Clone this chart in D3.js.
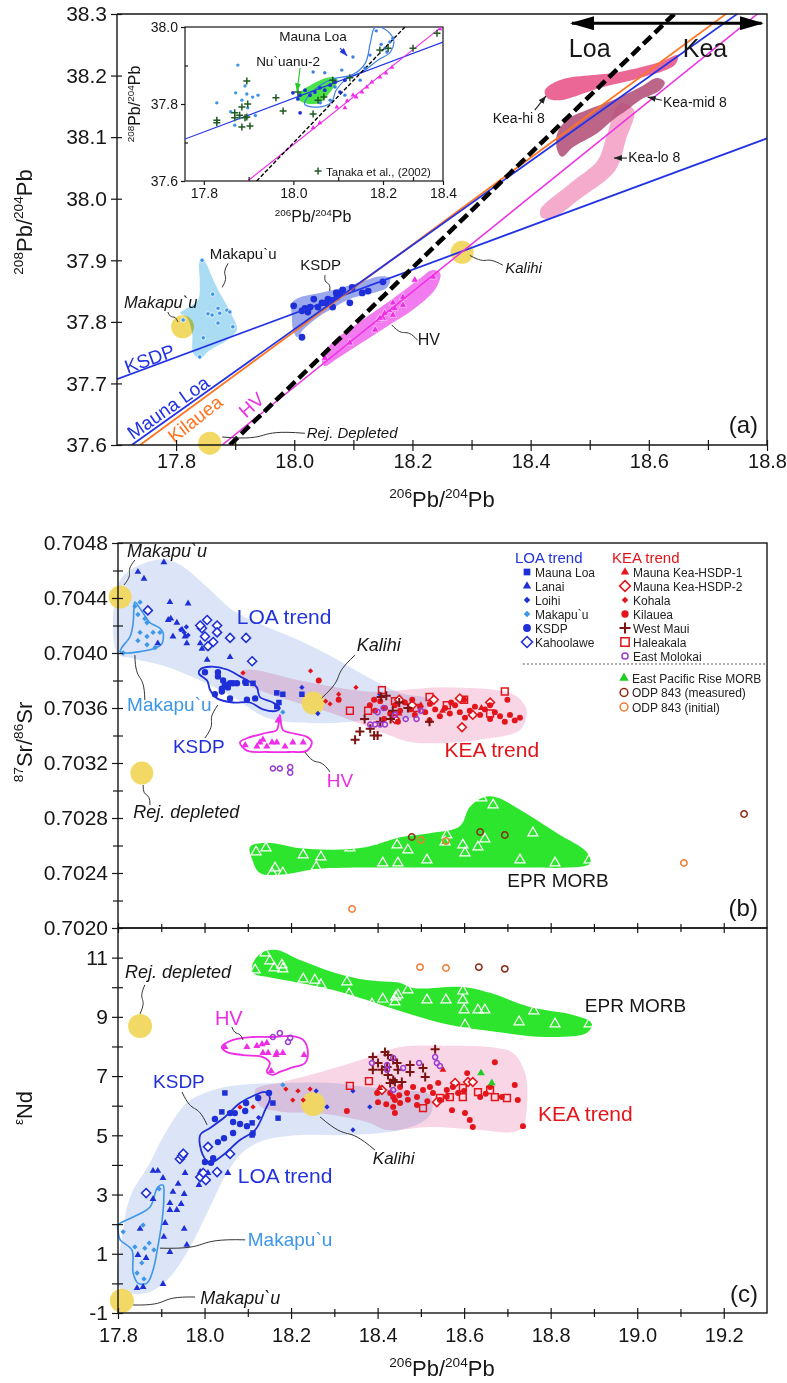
<!DOCTYPE html>
<html>
<head>
<meta charset="utf-8">
<script src="https://cdn.jsdelivr.net/npm/d3@7"></script>
<style>
  body { margin: 0; background: #fff; }
  svg { display: block; font-family: "Liberation Sans", Arial, Helvetica, sans-serif; }
</style>
</head>
<body>
<svg id="fig" width="787" height="1383"></svg>
<script>
// ---------------- tick values ----------------
var aTicksX = [17.8, 18.0, 18.2, 18.4, 18.6, 18.8];
var aMinorX = [17.9, 18.1, 18.3, 18.5, 18.7];
var aTicksY = [37.6, 37.7, 37.8, 37.9, 38.0, 38.1, 38.2, 38.3];
var insetTicksX = [17.8, 18.0, 18.2, 18.4];
var insetMinorX = [17.9, 18.1, 18.3];
var insetTicksY = [37.6, 37.8, 38.0];
var insetMinorY = [37.7, 37.9];
var bcTicksX = [17.8, 18.0, 18.2, 18.4, 18.6, 18.8, 19.0, 19.2];
var bcMinorX = [17.9, 18.1, 18.3, 18.5, 18.7, 18.9, 19.1];
var bTicksY = [0.7020, 0.7024, 0.7028, 0.7032, 0.7036, 0.7040, 0.7044, 0.7048];
var bMinorY = [0.7022, 0.7026, 0.7030, 0.7034, 0.7038, 0.7042, 0.7046];
var cTicksY = [-1, 1, 3, 5, 7, 9, 11];
var cMinorY = [0, 2, 4, 6, 8, 10];

// ---------------- panel (a) data : 206Pb/204Pb vs 208Pb/204Pb ----------------
var aKsdpLine = [[17.7, 37.707], [18.8, 38.098]];
var aMaunaLoaLine = [[17.725, 37.6], [18.751, 38.301]];
var aKilaueaLine = [[17.739, 37.6], [18.732, 38.301]];
var aHvLine = [[17.878, 37.6], [18.785, 38.301]];
var aLoaKeaLine = [[17.891, 37.6], [18.644, 38.301]];
var aLoaKeaArrow = [[18.470, 38.285], [18.791, 38.285]];

var aMakArea = [[17.844,37.904],[17.869,37.856],[17.896,37.808],[17.903,37.787],[17.886,37.770],[17.857,37.754],[17.840,37.741],[17.829,37.749],[17.827,37.782],[17.818,37.808],[17.807,37.814],[17.818,37.822],[17.837,37.835],[17.840,37.868],[17.839,37.895]];
var aMakPts = [[17.844,37.900],[17.862,37.845],[17.871,37.822],[17.854,37.813],[17.861,37.811],[17.874,37.814],[17.886,37.819],[17.891,37.816],[17.871,37.798],[17.896,37.792],[17.846,37.774],[17.840,37.743],[17.812,37.803]];
var aKsdpArea = [[17.996,37.831],[18.010,37.840],[18.043,37.847],[18.082,37.856],[18.123,37.868],[18.145,37.874],[18.162,37.871],[18.157,37.856],[18.133,37.847],[18.099,37.839],[18.065,37.822],[18.038,37.806],[18.015,37.787],[18.005,37.775],[17.998,37.787],[17.996,37.808]];
var aKsdpPts = [[17.999,37.826],[18.013,37.818],[18.018,37.822],[18.023,37.816],[18.027,37.824],[18.033,37.837],[18.040,37.824],[18.047,37.831],[18.054,37.831],[18.057,37.837],[18.064,37.835],[18.065,37.824],[18.071,37.847],[18.077,37.847],[18.072,37.840],[18.082,37.852],[18.094,37.831],[18.098,37.856],[18.115,37.847],[18.125,37.850],[18.150,37.865],[18.013,37.775]];
var aHvArea = [[18.047,37.735],[18.060,37.762],[18.111,37.800],[18.170,37.840],[18.213,37.871],[18.233,37.884],[18.247,37.879],[18.240,37.855],[18.204,37.822],[18.153,37.790],[18.103,37.759],[18.069,37.738],[18.052,37.728]];
var aHvPts = [[18.052,37.741],[18.094,37.766],[18.137,37.787],[18.142,37.803],[18.150,37.806],[18.165,37.819],[18.167,37.811],[18.145,37.806],[18.153,37.814],[18.167,37.831],[18.170,37.822],[18.184,37.827],[18.184,37.840],[18.204,37.868],[18.235,37.873]];
var keaHi = [[18.424,38.176],[18.450,38.193],[18.551,38.206],[18.619,38.222],[18.649,38.233],[18.644,38.217],[18.585,38.196],[18.517,38.180],[18.450,38.160],[18.429,38.163]];
var keaMid = [[18.445,38.106],[18.461,38.128],[18.495,38.144],[18.539,38.160],[18.585,38.181],[18.614,38.196],[18.627,38.189],[18.619,38.176],[18.585,38.160],[18.563,38.144],[18.539,38.128],[18.512,38.106],[18.472,38.084],[18.453,38.068],[18.445,38.079]];
var keaLo = [[18.416,37.981],[18.467,38.025],[18.514,38.063],[18.529,38.103],[18.551,38.155],[18.575,38.144],[18.561,38.095],[18.543,38.046],[18.488,38.003],[18.438,37.969],[18.419,37.969]];
var aEndMembers = [[17.811, 37.792], [17.857, 37.603], [18.284, 37.913]]; // Makapu`u, Rej. depleted, Kalihi

// ---------------- inset data ----------------
var inBlueLine = [[17.758, 37.709], [18.4, 37.961]];
var inHvLine = [[17.898, 37.6], [18.39, 37.997]];
var inDashLine = [[17.918, 37.6], [18.273, 38.0]];
var inMaunaLoaOutline = [[18.025,37.800],[18.05,37.840],[18.09,37.866],[18.13,37.875],[18.16,37.905],[18.172,37.960],[18.182,37.999],[18.205,37.995],[18.235,37.968],[18.225,37.935],[18.19,37.915],[18.155,37.885],[18.115,37.862],[18.095,37.835],[18.085,37.805],[18.055,37.792]];
var inNuuanu = [[18.008,37.821],[18.048,37.855],[18.086,37.870],[18.099,37.862],[18.082,37.831],[18.059,37.803],[18.037,37.800],[18.015,37.808]];
var inTanaka = [[17.829,37.758],[17.829,37.751],[17.896,37.860],[17.869,37.777],[17.885,37.792],[17.898,37.800],[17.880,37.771],[17.896,37.766],[17.869,37.764],[17.885,37.740],[17.903,37.743],[17.892,37.764],[17.961,37.816],[17.977,37.782],[18.044,37.774],[18.010,37.831],[18.055,37.810],[18.068,37.818],[18.088,37.862],[18.126,37.868],[18.193,37.940],[18.38,37.984],[18.30,37.945],[18.217,37.945]];
var inMakapuu = [[17.876,37.901],[17.829,37.803],[17.892,37.847],[17.909,37.818],[17.896,37.826],[17.885,37.810],[17.898,37.790],[17.880,37.764],[17.869,37.745],[17.921,37.823],[17.871,37.829],[17.860,37.780],[17.915,37.770]];
var inMaunaLoa = [[18.044,37.883],[18.070,37.881],[18.133,37.922],[18.171,37.927],[18.207,37.945],[18.223,37.961],[18.233,37.971],[18.213,37.935],[18.093,37.844],[18.108,37.888],[18.082,37.810],[18.060,37.803],[18.115,37.823],[18.149,37.862],[18.160,37.893],[18.185,37.990],[18.196,37.955]];
var inKsdp = [[17.999,37.829],[18.015,37.823],[18.026,37.836],[18.037,37.823],[18.048,37.831],[18.059,37.842],[18.070,37.836],[18.082,37.849],[18.093,37.857],[18.115,37.862],[18.015,37.777],[18.010,37.813],[18.104,37.831]];
var inHv = [[18.044,37.738],[18.059,37.751],[18.097,37.792],[18.115,37.790],[18.120,37.808],[18.133,37.823],[18.140,37.818],[18.153,37.831],[18.164,37.844],[18.175,37.857],[18.193,37.870],[18.21,37.88],[18.23,37.895],[18.39,37.995]];

// ---------------- panel (b) data : 206Pb/204Pb vs 87Sr/86Sr ----------------
var bLoaArea = [[17.798,0.70400],[17.805,0.70453],[17.858,0.70465],[17.913,0.70468],[17.950,0.70463],[18.006,0.70448],[18.066,0.70431],[18.144,0.70419],[18.221,0.70409],[18.297,0.70397],[18.375,0.70383],[18.452,0.70371],[18.521,0.70366],[18.498,0.70355],[18.375,0.70351],[18.260,0.70349],[18.144,0.70353],[18.066,0.70368],[17.990,0.70380],[17.913,0.70390],[17.835,0.70396]];
var bKeaArea = [[18.082,0.70386],[18.105,0.70388],[18.221,0.70380],[18.375,0.70372],[18.452,0.70373],[18.560,0.70375],[18.706,0.70371],[18.736,0.70364],[18.745,0.70356],[18.729,0.70344],[18.637,0.70337],[18.482,0.70335],[18.412,0.70342],[18.297,0.70356],[18.144,0.70371],[18.095,0.70378]];
var bEprArea = [[18.105,0.70259],[18.144,0.70262],[18.221,0.70258],[18.297,0.70257],[18.375,0.70259],[18.452,0.70266],[18.521,0.70269],[18.590,0.70274],[18.613,0.70288],[18.644,0.70295],[18.676,0.70295],[18.729,0.70286],[18.815,0.70269],[18.884,0.70255],[18.891,0.70247],[18.838,0.70244],[18.752,0.70244],[18.637,0.70244],[18.482,0.70244],[18.375,0.70244],[18.260,0.70243],[18.181,0.70239],[18.128,0.70240],[18.110,0.70250]];
var bMakOutline = [[17.839,0.70437],[17.858,0.70429],[17.874,0.70422],[17.897,0.70418],[17.904,0.70415],[17.902,0.70407],[17.890,0.70404],[17.851,0.70401],[17.821,0.70400],[17.805,0.70401],[17.809,0.70404],[17.828,0.70412],[17.835,0.70422],[17.837,0.70433]];
var bKsdpOutline = [[17.990,0.70388],[18.013,0.70390],[18.052,0.70388],[18.082,0.70383],[18.105,0.70379],[18.121,0.70375],[18.128,0.70368],[18.158,0.70364],[18.174,0.70360],[18.167,0.70358],[18.135,0.70359],[18.105,0.70364],[18.066,0.70364],[18.029,0.70367],[18.013,0.70373],[18.006,0.70380],[17.987,0.70385]];
var bHvOutline = [[18.174,0.70355],[18.181,0.70344],[18.198,0.70342],[18.237,0.70339],[18.248,0.70335],[18.237,0.70329],[18.198,0.70328],[18.144,0.70328],[18.098,0.70329],[18.082,0.70335],[18.098,0.70338],[18.144,0.70342],[18.167,0.70344]];
var bMakapuu = [[17.862,0.70425],[17.846,0.70428],[17.867,0.70422],[17.851,0.70415],[17.867,0.70412],[17.881,0.70415],[17.897,0.70415],[17.846,0.70409],[17.867,0.70406],[17.886,0.70404],[17.812,0.70400],[18.181,0.70357],[17.851,0.70437],[17.839,0.70434]];
var bLanai = [[17.846,0.70459],[17.860,0.70454],[17.906,0.70466],[17.920,0.70437],[17.916,0.70424],[17.922,0.70425],[17.936,0.70422],[17.962,0.70436],[17.955,0.70412],[17.927,0.70412],[17.990,0.70407],[18.006,0.70395],[18.059,0.70397],[17.994,0.70403],[17.959,0.70407],[17.948,0.70417],[17.892,0.70407]];
var bLoihi = [[17.945,0.70417],[17.953,0.70415],[17.958,0.70419],[17.962,0.70413],[18.262,0.70356],[18.225,0.70375],[18.405,0.70370]];
var bKaho = [[17.869,0.70431],[18.006,0.70424],[17.994,0.70418],[18.029,0.70420],[18.029,0.70415],[18.001,0.70412],[18.020,0.70408],[18.008,0.70405],[18.059,0.70411],[18.096,0.70411],[18.110,0.70394],[17.990,0.70420]];
var bKsdp = [[18.001,0.70386],[18.031,0.70386],[18.031,0.70383],[18.066,0.70378],[18.047,0.70377],[18.054,0.70375],[18.040,0.70372],[18.024,0.70370],[18.059,0.70367],[18.098,0.70366],[18.117,0.70367],[18.094,0.70379],[18.075,0.70378],[18.059,0.70378],[18.043,0.70380],[18.040,0.70374]];
var bMaunaLoa = [[18.096,0.70378],[18.112,0.70378],[18.167,0.70371],[18.181,0.70370],[18.225,0.70370],[18.172,0.70364],[18.167,0.70361]];
var bHv = [[18.094,0.70333],[18.128,0.70335],[18.135,0.70337],[18.144,0.70332],[18.156,0.70335],[18.167,0.70335],[18.186,0.70332],[18.204,0.70335],[18.228,0.70335],[18.170,0.70351],[18.121,0.70332]];
var bEMolokai = [[18.158,0.70316],[18.174,0.70316],[18.198,0.70317],[18.198,0.70313],[18.383,0.70348],[18.394,0.70348],[18.406,0.70348],[18.417,0.70348],[18.400,0.70357],[18.440,0.70355],[18.490,0.70352],[18.500,0.70358],[18.414,0.70360],[18.465,0.70352]];
var bKilauea = [[18.382,0.70362],[18.394,0.70358],[18.406,0.70365],[18.417,0.70360],[18.429,0.70356],[18.440,0.70362],[18.452,0.70358],[18.463,0.70364],[18.475,0.70359],[18.486,0.70355],[18.498,0.70361],[18.510,0.70357],[18.521,0.70363],[18.533,0.70359],[18.544,0.70354],[18.556,0.70360],[18.567,0.70356],[18.579,0.70362],[18.590,0.70357],[18.602,0.70353],[18.613,0.70358],[18.625,0.70361],[18.637,0.70355],[18.648,0.70359],[18.660,0.70352],[18.671,0.70357],[18.683,0.70354],[18.694,0.70350],[18.706,0.70355],[18.717,0.70351],[18.729,0.70353],[18.700,0.70366],[18.600,0.70366],[18.415,0.70352],[18.447,0.70350],[18.392,0.70366],[18.520,0.70351],[18.480,0.70366],[18.570,0.70364],[18.660,0.70362],[18.264,0.70380],[18.310,0.70366]];
var bWestMaui = [[18.370,0.70352],[18.383,0.70345],[18.359,0.70343],[18.348,0.70337],[18.400,0.70340],[18.406,0.70350],[18.392,0.70340],[18.420,0.70369],[18.435,0.70358],[18.408,0.70368],[18.450,0.70364],[18.470,0.70360],[18.520,0.70350],[18.430,0.70352]];
var bHaleakala = [[18.336,0.70358],[18.378,0.70358],[18.410,0.70373],[18.440,0.70365],[18.490,0.70360],[18.560,0.70362],[18.660,0.70356],[18.694,0.70372],[18.600,0.70366],[18.520,0.70368]];
var bHsdp2 = [[18.450,0.70366],[18.480,0.70362],[18.530,0.70366],[18.590,0.70367],[18.620,0.70355],[18.595,0.70346],[18.440,0.70352],[18.660,0.70364]];
var bHsdp1 = [[18.500,0.70362],[18.550,0.70358],[18.450,0.70356],[18.640,0.70360]];
var bKohala = [[18.245,0.70387],[18.290,0.70363],[18.310,0.70370],[18.280,0.70365],[18.350,0.70375],[18.089,0.703855]];
var bEpr = [[18.119,0.702553],[18.142,0.702582],[18.163,0.702436],[18.156,0.7024],[18.181,0.7024],[18.228,0.702531],[18.269,0.702516],[18.258,0.702444],[18.336,0.702582],[18.387,0.702633],[18.412,0.702473],[18.445,0.702604],[18.447,0.702473],[18.470,0.702567],[18.514,0.702495],[18.560,0.702676],[18.556,0.702625],[18.597,0.702604],[18.602,0.702545],[18.632,0.702589],[18.641,0.702945],[18.667,0.702895],[18.648,0.702647],[18.759,0.702691],[18.729,0.702495],[18.810,0.702473],[18.889,0.702495]];
var bOdpMeas = [[18.479,0.702662],[18.637,0.702698],[18.694,0.702676],[19.247,0.702829]];
var bOdpInit = [[18.500,0.70264],[18.558,0.702633],[19.108,0.702473],[18.341,0.702138]];
var bEndMembers = [[17.805, 0.704407], [17.855, 0.703127], [18.251, 0.703636]];

// ---------------- panel (c) data : 206Pb/204Pb vs eNd ----------------
var cLoaArea = [[17.800,-0.05],[17.812,1.80],[17.828,2.92],[17.874,4.07],[17.904,4.94],[17.959,6.09],[18.020,6.53],[18.082,6.70],[18.181,6.77],[18.297,6.77],[18.375,6.63],[18.452,6.53],[18.521,6.36],[18.526,5.85],[18.510,5.52],[18.452,5.18],[18.336,5.01],[18.221,5.01],[18.140,4.84],[18.094,4.50],[18.052,3.73],[18.006,2.38],[17.959,1.03],[17.913,0.11],[17.867,-0.32],[17.821,-0.32]];
var cKeaArea = [[18.117,6.53],[18.181,6.80],[18.260,7.10],[18.375,7.61],[18.452,7.98],[18.560,8.02],[18.676,7.95],[18.713,7.78],[18.741,7.10],[18.745,5.96],[18.736,5.28],[18.713,5.11],[18.637,5.18],[18.521,5.28],[18.422,5.18],[18.375,5.45],[18.260,5.75],[18.181,5.79],[18.128,6.00]];
var cEprArea = [[18.112,10.82],[18.135,11.19],[18.167,11.26],[18.221,10.92],[18.297,10.51],[18.375,10.24],[18.452,10.14],[18.482,9.97],[18.597,10.01],[18.660,9.81],[18.752,9.33],[18.852,9.06],[18.895,8.79],[18.884,8.46],[18.791,8.32],[18.676,8.49],[18.560,8.75],[18.452,9.20],[18.375,9.57],[18.297,9.91],[18.221,10.14],[18.144,10.35],[18.112,10.48]];
var cMakOutline = [[17.800,1.97],[17.835,2.24],[17.874,2.58],[17.892,3.25],[17.904,3.32],[17.906,2.92],[17.902,2.14],[17.892,1.23],[17.881,0.45],[17.867,0.01],[17.846,0.01],[17.835,0.35],[17.832,1.13],[17.805,1.47],[17.800,1.80]];
var cKsdpOutline = [[17.990,5.01],[17.996,4.34],[18.013,4.07],[18.040,4.30],[18.082,4.84],[18.117,5.18],[18.140,5.85],[18.151,6.26],[18.140,6.46],[18.117,6.36],[18.082,6.09],[18.047,5.62],[18.013,5.25]];
var cHvOutline = [[18.040,7.98],[18.066,8.22],[18.112,8.32],[18.158,8.32],[18.204,8.35],[18.228,8.22],[18.239,7.78],[18.232,7.44],[18.198,7.27],[18.174,7.14],[18.158,7.04],[18.144,7.14],[18.151,7.44],[18.135,7.64],[18.089,7.71],[18.052,7.81]];
var cMakapuu = [[17.812,1.74],[17.839,1.23],[17.862,1.19],[17.872,1.36],[17.883,1.13],[17.855,0.69],[17.844,0.35],[17.860,0.15],[17.895,3.19],[17.858,1.97],[18.181,6.70]];
var cLanai = [[17.881,3.80],[17.892,3.80],[17.904,3.56],[17.909,2.04],[17.920,2.48],[17.920,2.71],[17.927,3.09],[17.939,3.36],[17.936,2.48],[17.946,2.68],[17.953,3.02],[17.955,3.73],[17.953,1.84],[17.906,1.57],[17.920,1.06],[17.959,1.30],[17.904,-0.02],[17.844,-0.16],[17.858,-0.12],[17.846,0.96],[17.865,0.86],[17.851,1.84],[17.881,2.85],[17.987,3.32],[18.054,3.73],[17.990,3.76],[18.008,3.73]];
var cKaho = [[17.865,3.05],[17.943,4.20],[17.948,4.30],[17.951,4.38],[17.990,3.59],[18.003,3.49],[17.997,3.73],[18.008,4.61],[18.029,3.76],[18.059,4.37]];
var cKsdp = [[18.024,5.55],[18.059,5.75],[18.070,5.75],[18.094,5.82],[18.096,6.09],[18.066,5.45],[18.082,5.38],[18.098,5.31],[18.066,5.08],[18.031,4.77],[18.124,6.26],[18.149,6.43],[18.020,4.23],[18.001,4.10],[18.015,4.07],[18.045,4.90]];
var cMaunaLoa = [[18.047,6.43],[18.040,5.79],[18.110,5.42],[18.110,5.01],[18.158,6.09],[18.170,5.58],[18.112,5.08]];
var cLoihi = [[18.343,6.50],[18.343,5.18],[18.382,5.96],[18.283,5.96],[18.258,6.50],[18.125,5.60]];
var cHv = [[18.047,7.98],[18.121,8.02],[18.133,8.08],[18.144,8.12],[18.135,7.78],[18.147,7.78],[18.167,7.78],[18.181,7.78],[18.165,7.71],[18.230,7.71],[18.154,7.17],[18.098,7.98]];
var cEMolokai = [[18.158,8.32],[18.174,8.45],[18.193,8.15],[18.198,8.29],[18.387,7.44],[18.422,7.21],[18.422,7.37],[18.436,7.61],[18.496,7.44],[18.533,7.64],[18.537,7.44],[18.544,7.34],[18.459,7.27],[18.436,6.53]];
var cWestMaui = [[18.389,7.64],[18.401,7.44],[18.424,7.71],[18.389,7.21],[18.410,7.21],[18.424,7.04],[18.436,6.87],[18.429,6.77],[18.445,7.44],[18.417,7.81],[18.436,7.54],[18.422,7.31],[18.447,7.21],[18.475,7.37],[18.475,7.14],[18.505,7.27],[18.533,7.91],[18.440,6.80],[18.456,6.80],[18.510,6.97]];
var cKilauea = [[18.399,6.43],[18.401,6.12],[18.329,5.82],[18.436,6.29],[18.429,6.43],[18.440,6.19],[18.452,6.09],[18.436,5.96],[18.468,6.43],[18.482,6.63],[18.491,6.29],[18.505,6.53],[18.521,6.63],[18.528,6.43],[18.540,6.77],[18.544,6.19],[18.560,6.53],[18.572,5.85],[18.574,6.63],[18.586,6.43],[18.607,7.10],[18.602,5.75],[18.613,5.52],[18.620,5.28],[18.637,6.29],[18.660,6.63],[18.671,7.47],[18.687,6.29],[18.717,6.70],[18.724,6.19],[18.736,5.31],[18.491,6.02],[18.452,6.63],[18.440,5.75],[18.470,6.20],[18.515,6.15],[18.560,6.30],[18.600,6.50],[18.650,6.40],[18.420,6.05],[18.450,6.35]];
var cHaleakala = [[18.336,6.67],[18.380,6.83],[18.505,5.92],[18.544,6.26],[18.567,6.29],[18.597,6.29],[18.597,6.60],[18.632,6.46],[18.660,6.53],[18.671,6.29],[18.699,6.26]];
var cHsdp2 = [[18.579,6.77],[18.609,6.80],[18.620,6.80],[18.410,6.53],[18.537,6.12]];
var cHsdp1 = [[18.551,7.21],[18.405,6.60]];
var cEprFilled = [[18.639,7.10],[18.664,6.77]];
var cKohala = [[18.188,6.56],[18.204,6.19],[18.216,6.50],[18.244,6.56],[18.228,6.19],[18.112,5.96],[18.082,5.95]];
var cEpr = [[18.140,11.16],[18.151,10.89],[18.161,10.65],[18.179,10.75],[18.181,10.62],[18.117,10.58],[18.228,10.28],[18.255,10.24],[18.269,10.08],[18.329,10.18],[18.334,9.77],[18.387,9.43],[18.412,9.60],[18.442,9.67],[18.447,9.74],[18.440,9.50],[18.470,9.91],[18.514,9.57],[18.558,9.57],[18.597,9.87],[18.597,9.57],[18.600,9.23],[18.602,8.72],[18.632,9.23],[18.648,9.23],[18.761,9.20],[18.727,8.83],[18.810,8.76],[18.889,8.76]];
var cOdpMeas = [[18.634,10.68],[18.694,10.62]];
var cOdpInit = [[18.498,10.68],[18.558,10.65]];
var cEndMembers = [[17.851, 8.69], [18.251, 6.06], [17.809, -0.59]];

// legend entries
var legLoa = [["Mauna Loa","maunaLoa"],["Lanai","lanai"],["Loihi","loihi"],["Makapu`u","makapuu"],["KSDP","ksdp"],["Kahoolawe","kaho"]];
var legKea = [["Mauna Kea-HSDP-1","hsdp1"],["Mauna Kea-HSDP-2","hsdp2"],["Kohala","kohala"],["Kilauea","kilauea"],["West Maui","westMaui"],["Haleakala","haleakala"],["East Molokai","eMolokai"]];
var legOther = [["East Pacific Rise MORB","epr"],["ODP 843 (measured)","odpMeas"],["ODP 843 (initial)","odpInit"]];

// ---------------- colours ----------------
var BLUE = "#1f2fd8", LBLUE = "#3d96ea", RED = "#e3151a", DRED = "#7d1414",
    PURP = "#9b3bd0", MAG = "#ee2ee6", GREEN = "#2ee52e", ORANGE = "#ff7420",
    YELLOW = "#f1d75e", INK = "#161616";

var ST = {
  maunaLoa: {t:"Square", a:30, f:BLUE},
  lanai: {t:"Triangle", a:20, f:BLUE},
  loihi: {t:"Rhomb", a:14, f:BLUE},
  makapuu: {t:"Rhomb", a:14, f:LBLUE},
  ksdp: {t:"Circle", a:32, f:BLUE},
  kaho: {t:"Rhomb", a:40, f:"#fff", s:BLUE, w:1.6},
  hsdp1: {t:"Triangle", a:20, f:RED},
  hsdp2: {t:"Rhomb", a:38, f:"#fff", s:RED, w:1.6},
  kohala: {t:"Rhomb", a:14, f:RED},
  kilauea: {t:"Circle", a:28, f:RED},
  westMaui: {t:"plus", a:4.5, s:DRED, w:2},
  haleakala: {t:"Square", a:46, f:"none", s:RED, w:1.5},
  eMolokai: {t:"Circle", a:20, f:"none", s:PURP, w:1.5},
  epr: {t:"Triangle", a:26, f:"#22cc22"},
  eprOpen: {t:"Triangle", a:44, f:"none", s:"#fff", w:1.2},
  odpMeas: {t:"Circle", a:32, f:"none", s:"#8b2a12", w:1.5},
  odpInit: {t:"Circle", a:32, f:"none", s:"#f07a30", w:1.5},
  hv: {t:"Triangle", a:22, f:MAG},
  hvA: {t:"Triangle", a:24, f:MAG, s:"#fff", w:0.5},
  makA: {t:"Circle", a:16, f:LBLUE, s:"#fff", w:0.8},
  ksdpA: {t:"Circle", a:36, f:BLUE},
  tanaka: {t:"plus", a:3.5, s:"#1f5a22", w:1.5},
  inLight: {t:"Circle", a:9, f:LBLUE},
  inMl: {t:"Circle", a:9, f:"#3b7fe6"},
  inBlue: {t:"Circle", a:11, f:"#1f2fd8"},
  inHv: {t:"Triangle", a:10, f:MAG}
};

// ---------------- scales ----------------
var xa = d3.scaleLinear().domain([17.7, 18.8]).range([117, 767]);
var ya = d3.scaleLinear().domain([37.6, 38.3]).range([445, 14]);
var xi = d3.scaleLinear().domain([17.758, 18.2, 18.4]).range([185, 383, 443]);
var yi = d3.scaleLinear().domain([37.6, 38.0]).range([181, 27]);
var xb = d3.scaleLinear().domain([17.8, 19.3]).range([118, 767]);
var yb = d3.scaleLinear().domain([0.7020, 0.7048]).range([928, 543]);
var yc = d3.scaleLinear().domain([-1, 12]).range([1313, 928]);

var A = {x: xa, y: ya}, I = {x: xi, y: yi}, B = {x: xb, y: yb}, C = {x: xb, y: yc};

var svg = d3.select("#fig");
var defs = svg.append("defs");

function clipRect(id, x0, y0, x1, y1) {
  defs.append("clipPath").attr("id", id).append("rect")
      .attr("x", x0).attr("y", y0).attr("width", x1 - x0).attr("height", y1 - y0);
}
clipRect("clipA", 117, 14, 767, 445);
clipRect("clipI", 185, 27, 443, 181);

// arrow heads
defs.append("marker").attr("id", "bigHead").attr("viewBox", "0 0 24 14")
    .attr("markerUnits", "userSpaceOnUse").attr("markerWidth", 24).attr("markerHeight", 14)
    .attr("refX", 22).attr("refY", 7).attr("orient", "auto-start-reverse")
  .append("path").attr("d", "M0,0L24,7L0,14Z").attr("fill", "#000");
defs.append("marker").attr("id", "smallHead").attr("viewBox", "0 0 8 6")
    .attr("markerUnits", "userSpaceOnUse").attr("markerWidth", 8).attr("markerHeight", 6)
    .attr("refX", 8).attr("refY", 3).attr("orient", "auto")
  .append("path").attr("d", "M0,0L8,3L0,6Z").attr("fill", "context-stroke");

// ---------------- helpers ----------------
var closedCurve = d3.line().curve(d3.curveCatmullRomClosed.alpha(0.5));
var straight = d3.line();

function pos(p, d) { return [p.x(d[0]), p.y(d[1])]; }

function area(g, p, pts, fill, blend, op) {
  g.append("path").attr("d", closedCurve(pts.map(function(d) { return pos(p, d); })))
    .attr("fill", fill).attr("opacity", op == null ? 1 : op)
    .style("mix-blend-mode", blend ? "multiply" : null);
}
function outline(g, p, pts, col, w) {
  g.append("path").attr("d", closedCurve(pts.map(function(d) { return pos(p, d); })))
    .attr("fill", "none").attr("stroke", col).attr("stroke-width", w);
}
function seg(g, p, pts, col, w, dash) {
  g.append("path").attr("d", straight(pts.map(function(d) { return pos(p, d); })))
    .attr("fill", "none").attr("stroke", col).attr("stroke-width", w)
    .attr("stroke-dasharray", dash || null);
}
function symPath(st, k) {
  k = k || 1;
  if (st.t === "plus") { var s = st.a * Math.sqrt(k); return "M" + (-s) + ",0H" + s + "M0," + (-s) + "V" + s; }
  if (st.t === "Rhomb") { var r = Math.sqrt(st.a * k / 2); return "M0," + (-r) + "L" + r + ",0L0," + r + "L" + (-r) + ",0Z"; }
  return d3.symbol(d3["symbol" + st.t], st.a * k)();
}
function marks(g, p, pts, st) {
  g.append("g").selectAll("path").data(pts).join("path")
    .attr("transform", function(d) { return "translate(" + p.x(d[0]) + "," + p.y(d[1]) + ")"; })
    .attr("d", symPath(st))
    .attr("fill", st.f || "none").attr("stroke", st.s || "none").attr("stroke-width", st.w || 0);
}
function blobs(g, p, pts, r, blend) {
  g.append("g").selectAll("circle").data(pts).join("circle")
    .attr("cx", function(d) { return p.x(d[0]); }).attr("cy", function(d) { return p.y(d[1]); })
    .attr("r", r).attr("fill", YELLOW).attr("opacity", 0.95)
    .style("mix-blend-mode", blend ? "multiply" : null);
}
function leader(g, p, a, b, k) {
  k = k == null ? 6 : k;
  var s = pos(p, a), e = pos(p, b);
  var dx = e[0] - s[0], dy = e[1] - s[1], L = Math.hypot(dx, dy) || 1;
  var nx = -dy / L * k, ny = dx / L * k;
  g.append("path")
    .attr("d", "M" + s[0] + "," + s[1] + "C" + (s[0] + dx * 0.65 + nx) + "," + (s[1] + dy * 0.65 + ny) + " " +
      (s[0] + dx * 0.35 - nx) + "," + (s[1] + dy * 0.35 - ny) + " " + e[0] + "," + e[1])
    .attr("fill", "none").attr("stroke", "#333").attr("stroke-width", 1);
}
function arrow(g, p, a, b, col) {
  var s = pos(p, a), e = pos(p, b);
  g.append("line").attr("x1", s[0]).attr("y1", s[1]).attr("x2", e[0]).attr("y2", e[1])
    .attr("stroke", col || "#222").attr("stroke-width", 1.1).attr("marker-end", "url(#smallHead)");
}
function txt(g, p, d, s, o) {
  var x = p.x(d[0]), y = p.y(d[1]);
  var t = g.append("text").attr("x", x).attr("y", y).text(s)
    .attr("font-size", o.size).attr("fill", o.color || INK)
    .attr("text-anchor", o.anchor || "start");
  if (o.italic) t.attr("font-style", "italic");
  if (o.rot) t.attr("transform", "rotate(" + o.rot + "," + x + "," + y + ")");
  return t;
}
function title(x, y, rot, parts, size) {
  var t = svg.append("text").attr("transform", "translate(" + x + "," + y + ") rotate(" + rot + ")")
    .attr("text-anchor", "middle").attr("font-size", size).attr("fill", INK);
  var up = false;
  parts.forEach(function(pt) {
    var ts = t.append("tspan").text(pt[0]);
    if (pt[1]) {
      ts.attr("font-size", size * 0.62);
      if (!up) { ts.attr("dy", -size * 0.4); up = true; }
    } else if (up) { ts.attr("dy", size * 0.4); up = false; }
  });
}
function axis(orient, scale, at, vals, outer, inner, fmt, fs, pad) {
  var tr = orient === "bottom" ? "translate(0," + at + ")" : "translate(" + at + ",0)";
  var mk = orient === "bottom" ? d3.axisBottom : d3.axisLeft;
  var g1 = svg.append("g").attr("transform", tr)
    .call(mk(scale).tickValues(vals).tickSize(outer).tickSizeOuter(0).tickPadding(pad || 3)
      .tickFormat(fmt || function() { return ""; }));
  g1.attr("font-size", fs || 10).attr("font-family", null);
  g1.select(".domain").remove();
  g1.selectAll("text").attr("fill", INK);
  g1.selectAll("line").attr("stroke", INK).attr("stroke-width", 1.2);
  if (inner) {
    var mk2 = orient === "bottom" ? d3.axisTop : d3.axisRight;
    var g2 = svg.append("g").attr("transform", tr)
      .call(mk2(scale).tickValues(vals).tickSize(inner).tickSizeOuter(0).tickFormat(function() { return ""; }));
    g2.select(".domain").remove();
    g2.selectAll("line").attr("stroke", INK).attr("stroke-width", 1.2);
  }
}
function frame(x0, y0, x1, y1) {
  svg.append("rect").attr("x", x0).attr("y", y0).attr("width", x1 - x0).attr("height", y1 - y0)
    .attr("fill", "none").attr("stroke", INK).attr("stroke-width", 1.4);
}
var f1 = d3.format(".1f"), f4 = d3.format(".4f");

// =============== PANEL (a) ===============
var gA = svg.append("g");
area(gA, A, keaLo, "#f4a3c6", false, 0.9);
area(gA, A, keaMid, "#b04a74", false, 0.85);
area(gA, A, keaHi, "#e8578b", false, 0.9);
area(gA, A, aMakArea, "#aadcf4", true);
area(gA, A, aKsdpArea, "#9aa8ec", true);
area(gA, A, aHvArea, "#f27cef", true);
blobs(gA, A, aEndMembers.slice(0, 1), 11.5, true);
blobs(gA, A, aEndMembers.slice(1), 11.5, false);

var gAl = svg.append("g").attr("clip-path", "url(#clipA)");
seg(gAl, A, aKsdpLine, "#2233e6", 1.8);
seg(gAl, A, aKilaueaLine, ORANGE, 1.8);
seg(gAl, A, aMaunaLoaLine, "#2233e6", 1.8);
seg(gAl, A, aHvLine, MAG, 1.5);
seg(gAl, A, aLoaKeaLine, "#000", 4.5, "11,5");

marks(gA, A, aMakPts, ST.makA);
marks(gA, A, aKsdpPts, ST.ksdpA);
marks(gA, A, aHvPts, ST.hvA);

var gAt = svg.append("g");
leader(gAt, A, [17.803, 37.800], [17.786, 37.816], 4);
leader(gAt, A, [17.878, 37.856], [17.888, 37.895], 5);
leader(gAt, A, [18.060, 37.850], [18.052, 37.876], 5);
leader(gAt, A, [18.165, 37.795], [18.209, 37.770], 6);
leader(gAt, A, [17.878, 37.613], [18.018, 37.619], 7);
leader(gAt, A, [18.297, 37.908], [18.353, 37.892], 5);
arrow(gAt, A, [18.407, 38.144], [18.426, 38.167]);
arrow(gAt, A, [18.622, 38.160], [18.598, 38.165]);
arrow(gAt, A, [18.563, 38.066], [18.541, 38.066]);

var dblA = aLoaKeaArrow.map(function(d) { return pos(A, d); });
gAt.append("line").attr("x1", dblA[0][0]).attr("y1", dblA[0][1]).attr("x2", dblA[1][0]).attr("y2", dblA[1][1])
  .attr("stroke", "#000").attr("stroke-width", 3)
  .attr("marker-start", "url(#bigHead)").attr("marker-end", "url(#bigHead)");

txt(gAt, A, [17.712, 37.822], "Makapu`u", {size: 16.5, italic: true});
txt(gAt, A, [17.857, 37.902], "Makapu`u", {size: 15});
txt(gAt, A, [18.010, 37.884], "KSDP", {size: 15});
txt(gAt, A, [18.209, 37.762], "HV", {size: 16});
txt(gAt, A, [18.021, 37.611], "Rej. Depleted", {size: 15, italic: true});
txt(gAt, A, [18.357, 37.879], "Kalihi", {size: 15, italic: true});
txt(gAt, A, [18.380, 38.123], "Kea-hi 8", {size: 14, anchor: "middle"});
txt(gAt, A, [18.624, 38.149], "Kea-mid 8", {size: 14});
txt(gAt, A, [18.565, 38.059], "Kea-lo 8", {size: 14});
txt(gAt, A, [18.500, 38.230], "Loa", {size: 25, anchor: "middle"});
txt(gAt, A, [18.695, 38.230], "Kea", {size: 25, anchor: "middle"});
txt(gAt, A, [17.759, 37.730], "KSDP", {size: 19, color: "#2233e6", anchor: "middle", rot: -20});
txt(gAt, A, [17.793, 37.652], "Mauna Loa", {size: 19, color: "#2233e6", anchor: "middle", rot: -35});
txt(gAt, A, [17.839, 37.634], "Kilauea", {size: 19, color: ORANGE, anchor: "middle", rot: -38});
txt(gAt, A, [17.935, 37.657], "HV", {size: 19, color: MAG, anchor: "middle", rot: -42});
txt(gAt, A, [18.785, 37.619], "(a)", {size: 24, anchor: "end"});

// ---- inset ----
svg.append("rect").attr("x", 185).attr("y", 27).attr("width", 258).attr("height", 154)
  .attr("fill", "#fff").attr("stroke", INK).attr("stroke-width", 1.2);
var gI = svg.append("g").attr("clip-path", "url(#clipI)");
area(gI, I, inNuuanu, "#3fe03f", false, 0.95);
outline(gI, I, inMaunaLoaOutline, "#3b7fe6", 1.2);
seg(gI, I, inBlueLine, "#2233e6", 1.2);
seg(gI, I, inHvLine, MAG, 1.2);
seg(gI, I, inDashLine, "#000", 1.4, "4,2");
marks(gI, I, inMakapuu, ST.inLight);
marks(gI, I, inMaunaLoa, ST.inMl);
marks(gI, I, inKsdp, ST.inBlue);
marks(gI, I, inHv, ST.inHv);
marks(gI, I, inTanaka, ST.tanaka);
marks(gI, I, [[18.055, 37.626]], ST.tanaka);
txt(gI, I, [18.073, 37.613], "Tanaka et al., (2002)", {size: 11.5});
var gIt = svg.append("g");
txt(gIt, I, [18.044, 37.964], "Mauna Loa", {size: 13.5, anchor: "middle"});
txt(gIt, I, [17.988, 37.899], "Nu`uanu-2", {size: 13.5, anchor: "middle"});
arrow(gIt, I, [18.104, 37.945], [18.120, 37.925], "#2233e6");
arrow(gIt, I, [18.015, 37.894], [18.008, 37.833], "#22cc22");
axis("bottom", xi, 181, insetTicksX, 4, 0, f1, 14, 3);
axis("bottom", xi, 181, insetMinorX, 0, 4, null, 14);
axis("left", yi, 185, insetTicksY, 4, 0, f1, 14, 3);
axis("left", yi, 185, insetMinorY, 0, 3, null, 14);
title(313, 222, 0, [["206", 1], ["Pb/", 0], ["204", 1], ["Pb", 0]], 16);
title(140, 104, -90, [["208", 1], ["Pb/", 0], ["204", 1], ["Pb", 0]], 16);

// axes (a)
axis("bottom", xa, 445, aTicksX, 6, 5, f1, 20, 3);
axis("bottom", xa, 445, aMinorX, 5, 5, null, 20);
axis("left", ya, 117, aTicksY, 6, 5, f1, 21, 4);
svg.append("path").attr("d", "M117,14H767V445").attr("fill", "none").attr("stroke", INK).attr("stroke-width", 1.4);
svg.append("path").attr("d", "M117,14V445H767").attr("fill", "none").attr("stroke", INK).attr("stroke-width", 1.4);
title(442, 507, 0, [["206", 1], ["Pb/", 0], ["204", 1], ["Pb", 0]], 22);
title(32, 222, -90, [["208", 1], ["Pb/", 0], ["204", 1], ["Pb", 0]], 22);

// =============== PANEL (b) ===============
var gB = svg.append("g");
area(gB, B, bLoaArea, "#dbe5f7", true);
area(gB, B, bKeaArea, "#f9d6e6", true);
area(gB, B, bEprArea, GREEN, false);
blobs(gB, B, bEndMembers, 11.5, false);
outline(gB, B, bMakOutline, LBLUE, 1.6);
outline(gB, B, bKsdpOutline, BLUE, 1.8);
outline(gB, B, bHvOutline, MAG, 1.8);
marks(gB, B, bEpr, ST.eprOpen);
marks(gB, B, bOdpMeas, ST.odpMeas);
marks(gB, B, bOdpInit, ST.odpInit);
marks(gB, B, bLanai, ST.lanai);
marks(gB, B, bKaho, ST.kaho);
marks(gB, B, bLoihi, ST.loihi);
marks(gB, B, bMakapuu, ST.makapuu);
marks(gB, B, bKsdp, ST.ksdp);
marks(gB, B, bMaunaLoa, ST.maunaLoa);
marks(gB, B, bHv, ST.hv);
marks(gB, B, bHaleakala, ST.haleakala);
marks(gB, B, bHsdp2, ST.hsdp2);
marks(gB, B, bKilauea, ST.kilauea);
marks(gB, B, bHsdp1, ST.hsdp1);
marks(gB, B, bKohala, ST.kohala);
marks(gB, B, bWestMaui, ST.westMaui);
marks(gB, B, bEMolokai, ST.eMolokai);

var gBt = svg.append("g");
leader(gBt, B, [17.814, 0.704495], [17.839, 0.704676], 5);
leader(gBt, B, [17.839, 0.703985], [17.862, 0.703658], 6);
leader(gBt, B, [18.031, 0.703622], [18.001, 0.703382], 6);
leader(gBt, B, [18.232, 0.70328], [18.290, 0.703135], 6);
leader(gBt, B, [17.858, 0.70304], [17.874, 0.702895], 5);
leader(gBt, B, [18.271, 0.703673], [18.348, 0.703985], 6);
txt(gBt, B, [18.184, 0.70421], "LOA trend", {size: 21, color: "#2233dd", anchor: "middle"});
txt(gBt, B, [18.664, 0.703244], "KEA trend", {size: 21, color: RED, anchor: "middle"});
txt(gBt, B, [18.817, 0.702298], "EPR MORB", {size: 19, anchor: "middle"});
txt(gBt, B, [18.352, 0.704015], "Kalihi", {size: 18, italic: true});
txt(gBt, B, [17.821, 0.70470], "Makapu`u", {size: 18, italic: true});
txt(gBt, B, [17.821, 0.703578], "Makapu`u", {size: 19, color: LBLUE});
txt(gBt, B, [17.927, 0.703273], "KSDP", {size: 19, color: BLUE});
txt(gBt, B, [18.313, 0.703025], "HV", {size: 19, color: MAG, anchor: "middle"});
txt(gBt, B, [17.835, 0.7028], "Rej. depleted", {size: 18, italic: true});
txt(gBt, B, [19.279, 0.702087], "(b)", {size: 24, anchor: "end"});

// legend (b)
var gL = svg.append("g");
gL.append("text").attr("x", 515).attr("y", 563).attr("font-size", 15).attr("fill", "#2233dd").text("LOA trend");
gL.append("text").attr("x", 612).attr("y", 563).attr("font-size", 15).attr("fill", RED).text("KEA trend");
function legendCol(items, mx, tx, y0, step) {
  items.forEach(function(it, i) {
    var y = y0 + i * step, st = ST[it[1]];
    gL.append("path").attr("transform", "translate(" + mx + "," + y + ")").attr("d", symPath(st, 1.5))
      .attr("fill", st.f || "none").attr("stroke", st.s || "none").attr("stroke-width", st.w || 0);
    gL.append("text").attr("x", tx).attr("y", y + 4.5).attr("font-size", 12).attr("fill", "#222").text(it[0]);
  });
}
legendCol(legLoa, 527, 535, 572, 14);
legendCol(legKea, 625, 633, 572, 14);
legendCol(legOther, 624, 632, 678, 14.5);
gL.append("line").attr("x1", 523).attr("x2", 767).attr("y1", 664).attr("y2", 664)
  .attr("stroke", "#555").attr("stroke-width", 1).attr("stroke-dasharray", "2,2");

axis("left", yb, 118, bTicksY, 6, 5, f4, 21, 4);
axis("left", yb, 118, bMinorY, 5, 5, null, 21);
axis("bottom", xb, 928, bcTicksX, 5, 5, null, 10);
axis("bottom", xb, 928, bcMinorX, 4, 4, null, 10);
frame(118, 543, 767, 928);
title(32, 742, -90, [["87", 1], ["Sr/", 0], ["86", 1], ["Sr", 0]], 22);

// =============== PANEL (c) ===============
var gC = svg.append("g");
area(gC, C, cLoaArea, "#dbe5f7", true);
area(gC, C, cKeaArea, "#f9d6e6", true);
area(gC, C, cEprArea, GREEN, false);
blobs(gC, C, cEndMembers, 12, false);
outline(gC, C, cMakOutline, LBLUE, 1.6);
outline(gC, C, cKsdpOutline, BLUE, 1.8);
outline(gC, C, cHvOutline, MAG, 1.8);
marks(gC, C, cEpr, ST.eprOpen);
marks(gC, C, cOdpMeas, ST.odpMeas);
marks(gC, C, cOdpInit, ST.odpInit);
marks(gC, C, cLanai, ST.lanai);
marks(gC, C, cKaho, ST.kaho);
marks(gC, C, cLoihi, ST.loihi);
marks(gC, C, cMakapuu, ST.makapuu);
marks(gC, C, cKsdp, ST.ksdp);
marks(gC, C, cMaunaLoa, ST.maunaLoa);
marks(gC, C, cHv, ST.hv);
marks(gC, C, cHaleakala, ST.haleakala);
marks(gC, C, cHsdp2, ST.hsdp2);
marks(gC, C, cKilauea, ST.kilauea);
marks(gC, C, cHsdp1, ST.hsdp1);
marks(gC, C, cEprFilled, ST.epr);
marks(gC, C, cKohala, ST.kohala);
marks(gC, C, cWestMaui, ST.westMaui);
marks(gC, C, cEMolokai, ST.eMolokai);

var gCt = svg.append("g");
leader(gCt, C, [17.851, 9.10], [17.862, 10.08], 5);
leader(gCt, C, [18.089, 8.22], [18.063, 8.66], 4);
leader(gCt, C, [18.006, 5.35], [17.948, 6.46], 6);
leader(gCt, C, [18.267, 5.62], [18.394, 4.50], 7);
leader(gCt, C, [17.897, 1.19], [18.094, 1.47], 7);
leader(gCt, C, [17.835, -0.73], [17.978, -0.46], 6);
txt(gCt, C, [17.816, 10.31], "Rej. depleted", {size: 18, italic: true});
txt(gCt, C, [18.024, 8.72], "HV", {size: 20, color: MAG});
txt(gCt, C, [17.881, 6.60], "KSDP", {size: 19, color: BLUE});
txt(gCt, C, [18.389, 4.03], "Kalihi", {size: 17, italic: true});
txt(gCt, C, [18.077, 3.39], "LOA trend", {size: 21, color: "#2233dd"});
txt(gCt, C, [18.771, 5.48], "KEA trend", {size: 21, color: RED});
txt(gCt, C, [18.879, 9.16], "EPR MORB", {size: 19});
txt(gCt, C, [18.100, 1.26], "Makapu`u", {size: 19, color: LBLUE});
txt(gCt, C, [17.990, -0.70], "Makapu`u", {size: 18, italic: true});
txt(gCt, C, [19.279, -0.63], "(c)", {size: 24, anchor: "end"});

axis("left", yc, 118, cTicksY, 6, 5, function(d) { return String(d); }, 21, 4);
axis("left", yc, 118, cMinorY, 6, 5, null, 21);
axis("bottom", xb, 1313, bcTicksX, 6, 5, f1, 20, 9);
axis("bottom", xb, 1313, bcMinorX, 4, 4, null, 20);
frame(118, 928, 767, 1313);
title(32, 1108, -90, [["ε", 1], ["Nd", 0]], 22);
title(442, 1376, 0, [["206", 1], ["Pb/", 0], ["204", 1], ["Pb", 0]], 22);
</script>
</body>
</html>
